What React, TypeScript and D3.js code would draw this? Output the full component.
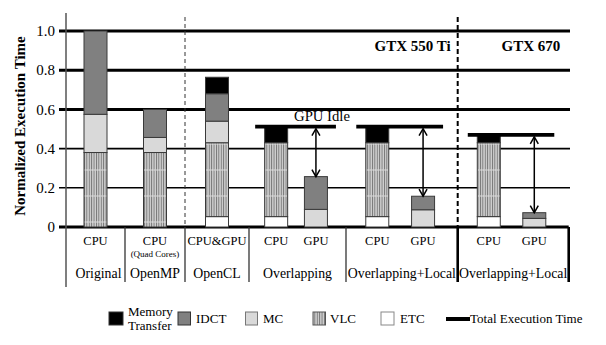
import React from 'react';
import * as d3 from 'd3';

// ---------- data ----------
const groups = ['Original', 'OpenMP', 'OpenCL', 'Overlapping', 'Overlapping+Local', 'Overlapping+Local'];
const barGroup = [0, 1, 2, 3, 3, 4, 4, 5, 5];
const barLabels = ['CPU', 'CPU', 'CPU&GPU', 'CPU', 'GPU', 'CPU', 'GPU', 'CPU', 'GPU'];
const barSubLabels = ['', '(Quad Cores)', '', '', '', '', '', '', ''];
const seriesKeys = ['ETC', 'VLC', 'MC', 'IDCT', 'Memory'];
const etc = [0, 0, 0.053, 0.053, 0, 0.053, 0, 0.053, 0];
const vlc = [0.38, 0.38, 0.377, 0.377, 0, 0.377, 0, 0.377, 0];
const mc = [0.195, 0.077, 0.11, 0, 0.09, 0, 0.088, 0, 0.044];
const idct = [0.425, 0.143, 0.14, 0, 0.167, 0, 0.069, 0, 0.029];
const memory = [0, 0, 0.084, 0.082, 0, 0.082, 0, 0.04, 0];
const totalGroups = [3, 4, 5];
const totalValues = [0.512, 0.512, 0.47];
const yTicks = [0, 0.2, 0.4, 0.6, 0.8, 1.0];
const yTickLabels = ['0', '0.2', '0.4', '0.6', '0.8', '1.0'];
const platformLabels = ['GTX 550 Ti', 'GTX 670'];
const legendItems = ['Memory Transfer', 'IDCT', 'MC', 'VLC', 'ETC', 'Total Execution Time'];

const FONT = '"Liberation Serif", "Times New Roman", serif';

export default function App() {
  const W = 606, H = 345;
  const y = d3.scaleLinear().domain([0, 1]).range([227, 31]);
  const x = d3.scaleLinear().domain(d3.range(7)).range([66, 125, 185, 249, 346, 457.7, 568.7]);
  const barW = 23;

  const rows = barLabels.map((_, i) => ({ ETC: etc[i], VLC: vlc[i], MC: mc[i], IDCT: idct[i], Memory: memory[i] }));
  const stacked = d3.stack<any>().keys(seriesKeys)(rows);

  const countInGroup = (g: number) => barGroup.filter(b => b === g).length;
  const barCenter = (i: number) => {
    const g = barGroup[i];
    const n = countInGroup(g);
    const idx = barGroup.slice(0, i).filter(b => b === g).length;
    const off = n === 1 ? 0.5 : (idx === 0 ? 0.28 : 0.69);
    return x(g + off);
  };

  const fills: Record<string, string> = {
    ETC: '#ffffff', VLC: 'url(#vlcPat)', MC: '#d9d9d9', IDCT: '#808080', Memory: '#000000',
  };

  const stroke = '#3a3a3a';
  const sepSolidBottom = 282;

  const totals = totalGroups.map((g, k) => {
    const bars = barGroup.map((b, i) => (b === g ? i : -1)).filter(i => i >= 0);
    const cpu = bars[0], gpu = bars[1];
    const gpuTop = seriesKeys.reduce((s, key) => s + (rows[gpu] as any)[key], 0);
    return { g, value: totalValues[k], x1: barCenter(cpu) - 21, x2: barCenter(gpu) + 20, ax: barCenter(gpu), gpuTop };
  });

  const legendX = [109, 178, 245.5, 313, 381, 446];
  const ly = 312, ls = 13;

  return (
    <svg width={W} height={H} style={{ position: 'absolute', left: 0, top: 0, background: '#fff' }} fontFamily={FONT}>
      <defs>
        <pattern id="vlcPat" patternUnits="userSpaceOnUse" width="2.4" height="26" y="143.5">
          <rect width="2.4" height="26" fill="#cfcfcf" />
          <rect x="0" width="0.9" height="26" fill="#727272" />
          <rect x="0" y="0" width="1.6" height="0.8" fill="#f2f2f2" />
        </pattern>
      </defs>

      {/* gridlines */}
      {yTicks.map((t, i) => (
        <line key={'g' + i} x1={59} x2={t === 0 ? 568.7 : 570} y1={y(t)} y2={y(t)}
          stroke="#000" strokeWidth={t === 0 || t >= 0.6 ? 3 : 1.6} />
      ))}
      {yTicks.map((t, i) => (
        <text key={'yl' + i} x={55} y={y(t)} dy="0.35em" textAnchor="end" fontSize={15}>{yTickLabels[i]}</text>
      ))}
      <text transform={`translate(20,${126}) rotate(-90)`} textAnchor="middle" dy="0.35em" fontSize={15} fontWeight="bold">
        Normalized Execution Time
      </text>

      {/* bars */}
      {stacked.map(series => series.map((d, i) => {
        const h = y(d[0]) - y(d[1]);
        if (h <= 0.01) return null;
        return (
          <rect key={series.key + i} x={barCenter(i) - barW / 2} y={y(d[1])} width={barW} height={h}
            fill={fills[series.key]} stroke={stroke} strokeWidth={1} />
        );
      }))}

      {/* total lines and arrows */}
      {totals.map((t, k) => {
        const ty = y(t.value);
        const top = ty + 2;
        const bot = y(t.gpuTop);
        return (
          <g key={'t' + k}>
            <line x1={t.x1} x2={t.x2} y1={ty} y2={ty} stroke="#000" strokeWidth={3.6} />
            <line x1={t.ax} x2={t.ax} y1={top} y2={bot} stroke="#000" strokeWidth={1.5} />
            <polyline points={`${t.ax - 4},${top + 7} ${t.ax},${top} ${t.ax + 4},${top + 7}`} fill="none" stroke="#000" strokeWidth={1.5} />
            <polyline points={`${t.ax - 4},${bot - 7} ${t.ax},${bot} ${t.ax + 4},${bot - 7}`} fill="none" stroke="#000" strokeWidth={1.5} />
          </g>
        );
      })}
      <text x={322} y={120.5} textAnchor="middle" fontSize={14.7}>GPU Idle</text>

      {/* separators */}
      <line x1={x(0)} x2={x(0)} y1={13} y2={287} stroke="#555" strokeWidth={1.5} />
      <line x1={x(1)} x2={x(1)} y1={227} y2={sepSolidBottom} stroke="#333" strokeWidth={1.3} />
      <line x1={x(2)} x2={x(2)} y1={17} y2={227} stroke="#333" strokeWidth={1} strokeDasharray="4,3" />
      <line x1={x(2)} x2={x(2)} y1={227} y2={sepSolidBottom} stroke="#333" strokeWidth={1.3} />
      <line x1={x(3)} x2={x(3)} y1={227} y2={sepSolidBottom} stroke="#333" strokeWidth={1.3} />
      <line x1={x(4)} x2={x(4)} y1={227} y2={sepSolidBottom} stroke="#333" strokeWidth={1.3} />
      <line x1={x(5)} x2={x(5)} y1={17} y2={227} stroke="#000" strokeWidth={2} strokeDasharray="5,3" />
      <line x1={x(5)} x2={x(5)} y1={227} y2={sepSolidBottom} stroke="#000" strokeWidth={2.6} />
      <line x1={x(6)} x2={x(6)} y1={227} y2={sepSolidBottom} stroke="#000" strokeWidth={2.6} />

      {/* platform labels */}
      <text x={x(5) - 7} y={51} textAnchor="end" fontSize={15} fontWeight="bold">{platformLabels[0]}</text>
      <text x={x(5.66)} y={51} textAnchor="middle" fontSize={15} fontWeight="bold">{platformLabels[1]}</text>

      {/* bar labels */}
      {barLabels.map((l, i) => (
        <g key={'bl' + i}>
          <text x={barCenter(i)} y={244.5} textAnchor="middle" fontSize={12.5}>{l}</text>
          {barSubLabels[i] && <text x={barCenter(i)} y={256.5} textAnchor="middle" fontSize={9}>{barSubLabels[i]}</text>}
        </g>
      ))}
      {groups.map((gname, g) => (
        <text key={'gl' + g} x={(x(g) + x(g + 1)) / 2 + (g === 0 ? 3 : 0)} y={278} textAnchor="middle" fontSize={13.8}>{gname}</text>
      ))}

      {/* legend */}
      <rect x={legendX[0]} y={ly} width={14} height={ls} fill="#000" stroke="#333" />
      <text x={legendX[0] + 19} y={316} fontSize={13}>Memory</text>
      <text x={legendX[0] + 19} y={330} fontSize={13}>Transfer</text>
      <rect x={legendX[1]} y={ly} width={12.5} height={ls} fill="#808080" stroke="#333" />
      <text x={legendX[1] + 18} y={ly + 10.5} fontSize={13}>{legendItems[1]}</text>
      <rect x={legendX[2]} y={ly} width={12} height={ls} fill="#d9d9d9" stroke="#777" />
      <text x={legendX[2] + 17.5} y={ly + 10.5} fontSize={13}>{legendItems[2]}</text>
      <rect x={legendX[3]} y={ly} width={12.5} height={ls} fill="url(#vlcPat)" stroke="#555" />
      <text x={legendX[3] + 17} y={ly + 10.5} fontSize={13}>{legendItems[3]}</text>
      <rect x={legendX[4]} y={ly} width={13} height={ls} fill="#fff" stroke="#888" />
      <text x={legendX[4] + 19} y={ly + 10.5} fontSize={13}>{legendItems[4]}</text>
      <line x1={legendX[5]} x2={legendX[5] + 24} y1={ly + 7} y2={ly + 7} stroke="#000" strokeWidth={4} />
      <text x={legendX[5] + 24} y={ly + 10.5} fontSize={13}>{legendItems[5]}</text>
    </svg>
  );
}
